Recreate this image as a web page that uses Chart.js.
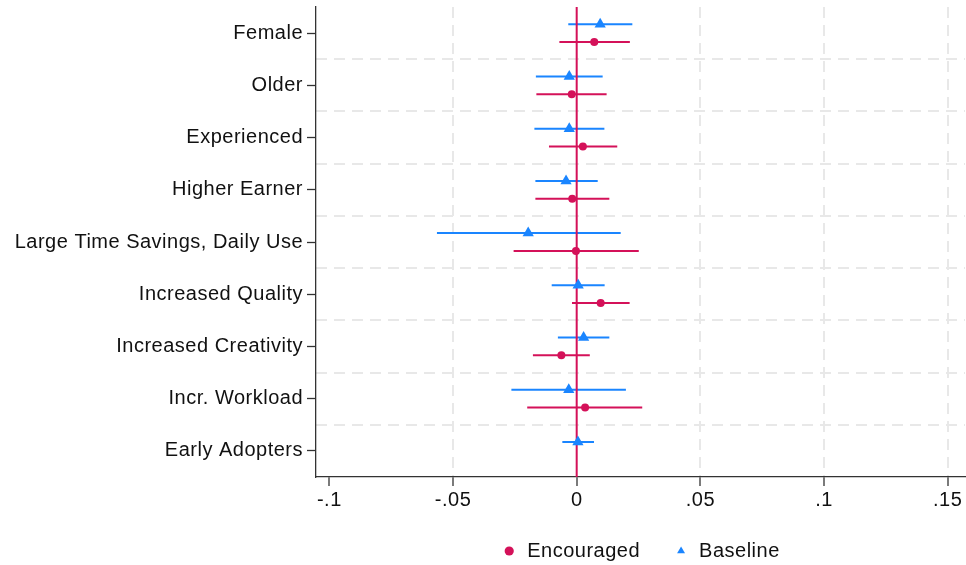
<!DOCTYPE html>
<html>
<head>
<meta charset="utf-8">
<script src="https://cdn.jsdelivr.net/npm/chart.js@4/dist/chart.umd.min.js"></script>
<style>
  html, body { margin: 0; padding: 0; background: #fff; }
  #wrap { width: 966px; height: 565px; }
</style>
</head>
<body>
<div id="wrap"><canvas id="c" width="966" height="565"></canvas></div>
<script>
// Rows of the coefficient plot, top to bottom
const categories = [
  'Female', 'Older', 'Experienced', 'Higher Earner',
  'Large Time Savings, Daily Use', 'Increased Quality',
  'Increased Creativity', 'Incr. Workload', 'Early Adopters'
];

// Point estimates and 95% interval bounds
const encouragedCoef = [0.0071, -0.0020, 0.0025, -0.0018, -0.0003, 0.0097, -0.0062, 0.0034, null];
const encouragedLow  = [-0.0070, -0.0163, -0.0112, -0.0167, -0.0255, -0.0019, -0.0177, -0.0200, null];
const encouragedHigh = [0.0215, 0.0121, 0.0164, 0.0132, 0.0251, 0.0214, 0.0053, 0.0265, null];

const baselineCoef = [0.0095, -0.0030, -0.0030, -0.0043, -0.0196, 0.0006, 0.0028, -0.0032, 0.0005];
const baselineLow  = [-0.0034, -0.0165, -0.0171, -0.0167, -0.0565, -0.0101, -0.0076, -0.0264, -0.0058];
const baselineHigh = [0.0225, 0.0105, 0.0112, 0.0085, 0.0178, 0.0113, 0.0132, 0.0199, 0.0070];

// Horizontal axis ticks
const xTickValues = [-0.1, -0.05, 0, 0.05, 0.1, 0.15];
const xTickLabels = ['-.1', '-.05', '0', '.05', '.1', '.15'];

// Styling
const RED = '#D41159';
const BLUE = '#1A85FF';
const AXIS = '#333333';
const GRID = '#e8e8e8';
const FONT = { family: "'Liberation Sans', Arial, Helvetica, sans-serif", size: 20 };
const ROW_SHIFT = 0.17;   // vertical split between the two series within a row

function rowPoints(coef, shift) {
  const pts = [];
  coef.forEach((c, i) => { if (c !== null) pts.push({ x: c, y: i + 1 + shift }); });
  return pts;
}

// Slightly wider lettering for all chart text
const SPACING = '0.5px';
const letterSpacing = {
  id: 'letterSpacing',
  beforeUpdate(chart) { chart.ctx.letterSpacing = SPACING; },
  beforeLayout(chart) { chart.ctx.letterSpacing = SPACING; },
  beforeDraw(chart) { chart.ctx.letterSpacing = SPACING; }
};

// Confidence-interval whiskers, positioned through the chart scales
const ciBars = {
  id: 'ciBars',
  beforeDatasetsDraw(chart) {
    const { ctx, scales } = chart;
    const x = scales.x, y = scales.y;
    const series = [
      { low: baselineLow, high: baselineHigh, shift: -ROW_SHIFT, color: BLUE },
      { low: encouragedLow, high: encouragedHigh, shift: ROW_SHIFT, color: RED }
    ];
    ctx.save();
    ctx.lineWidth = 2;
    ctx.lineCap = 'butt';
    series.forEach(s => {
      ctx.strokeStyle = s.color;
      s.low.forEach((lo, i) => {
        const hi = s.high[i];
        if (lo === null || hi === null) return;
        const py = y.getPixelForValue(i + 1 + s.shift);
        ctx.beginPath();
        ctx.moveTo(x.getPixelForValue(lo), py);
        ctx.lineTo(x.getPixelForValue(hi), py);
        ctx.stroke();
      });
    });
    ctx.restore();
  }
};

new Chart(document.getElementById('c'), {
  type: 'scatter',
  data: {
    datasets: [
      {
        label: 'Encouraged',
        data: rowPoints(encouragedCoef, ROW_SHIFT),
        pointStyle: 'circle',
        pointRadius: 4,
        backgroundColor: RED,
        borderColor: RED,
        borderWidth: 0,
        order: 0
      },
      {
        label: 'Baseline',
        data: rowPoints(baselineCoef, -ROW_SHIFT),
        pointStyle: 'triangle',
        pointRadius: 6.5,
        backgroundColor: BLUE,
        borderColor: BLUE,
        borderWidth: 0,
        order: 1
      },
      {
        label: 'zero',
        type: 'line',
        data: [{ x: 0, y: 0.5 }, { x: 0, y: categories.length + 0.5 }],
        borderColor: RED,
        borderWidth: 2,
        pointRadius: 0,
        order: 2
      }
    ]
  },
  options: {
    responsive: false,
    devicePixelRatio: 1,
    animation: false,
    layout: { autoPadding: false, padding: { top: 7, right: 1, left: 0, bottom: 0 } },
    plugins: {
      tooltip: { enabled: false },
      legend: {
        position: 'bottom',
        fullSize: false,
        maxHeight: 57,
        labels: {
          filter: item => item.text !== 'zero',
          usePointStyle: true,
          boxWidth: 16,
          boxHeight: 6.5,
          padding: 33,
          color: '#111',
          font: FONT
        }
      }
    },
    scales: {
      x: {
        type: 'linear',
        position: 'bottom',
        min: -0.1054,
        max: 0.157,
        afterBuildTicks: s => { s.ticks = xTickValues.map(v => ({ value: v })); },
        afterFit: s => { s.height = 31; s.paddingLeft = 0; s.paddingRight = 0; },
        ticks: {
          autoSkip: false,
          maxRotation: 0,
          padding: 2,
          color: '#111',
          font: FONT,
          callback: (v, i) => xTickLabels[i]
        },
        grid: {
          color: ctx => (ctx.tick && (ctx.tick.value === -0.1 || ctx.tick.value === 0)) ? 'rgba(0,0,0,0)' : GRID,
          lineWidth: 2,
          tickLength: 9,
          tickColor: AXIS,
          tickWidth: 1.3
        },
        border: { color: AXIS, width: 1.3, dash: [11, 7] }
      },
      y: {
        type: 'linear',
        position: 'left',
        min: 0.5,
        max: categories.length + 0.5,
        reverse: true,
        afterBuildTicks: s => { s.ticks = categories.map((_, i) => ({ value: i + 1 })); },
        afterFit: s => { s.width = 316; s.paddingTop = 0; s.paddingBottom = 0; },
        ticks: {
          autoSkip: false,
          padding: 4,
          color: '#111',
          font: FONT,
          callback: v => categories[Math.round(v) - 1]
        },
        grid: {
          drawOnChartArea: false,
          tickLength: 9,
          tickColor: AXIS,
          tickWidth: 1.3
        },
        border: { color: AXIS, width: 1.3 }
      },
      // Separators between rows
      yRows: {
        type: 'linear',
        position: 'left',
        min: 0.5,
        max: categories.length + 0.5,
        reverse: true,
        afterBuildTicks: s => { s.ticks = categories.slice(1).map((_, i) => ({ value: i + 1.5 })); },
        afterFit: s => { s.width = 0; s.paddingTop = 0; s.paddingBottom = 0; },
        ticks: { display: false },
        grid: { color: GRID, lineWidth: 2, drawTicks: false },
        border: { display: false, dash: [11, 7] }
      }
    }
  },
  plugins: [letterSpacing, ciBars]
});
</script>
</body>
</html>
